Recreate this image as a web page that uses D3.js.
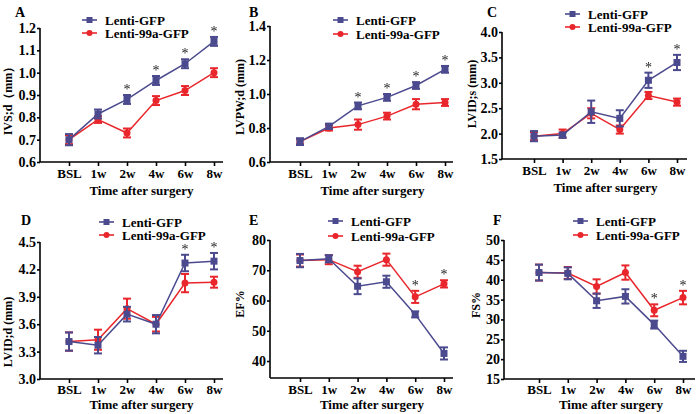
<!DOCTYPE html>
<html><head><meta charset="utf-8">
<script src="https://cdn.jsdelivr.net/npm/d3@7"></script>
<style>
html,body{margin:0;padding:0;background:#fff;}
</style></head>
<body><svg id="chart" width="700" height="414"></svg>
<script>
// ---------- data ----------
const categories = ["BSL", "1w", "2w", "4w", "6w", "8w"];
const seriesNames = ["Lenti-GFP", "Lenti-99a-GFP"];

// A: IVS;d
const ivsGfp     = [0.70, 0.815, 0.88, 0.965, 1.04, 1.14];
const ivsGfpErr  = [0.025, 0.02, 0.02, 0.02, 0.02, 0.02];
const ivs99a     = [0.70, 0.79, 0.73, 0.875, 0.92, 1.00];
const ivs99aErr  = [0.02, 0.015, 0.02, 0.02, 0.02, 0.02];
const ivsStars   = ["2w", "4w", "6w", "8w"];
const ivsTicks   = [0.6, 0.7, 0.8, 0.9, 1.0, 1.1, 1.2];

// B: LVPW;d
const lvpwGfp    = [0.72, 0.81, 0.93, 0.98, 1.05, 1.145];
const lvpwGfpErr = [0.02, 0.015, 0.02, 0.02, 0.02, 0.02];
const lvpw99a    = [0.72, 0.80, 0.82, 0.87, 0.94, 0.95];
const lvpw99aErr = [0.015, 0.015, 0.03, 0.02, 0.03, 0.02];
const lvpwStars  = ["2w", "4w", "6w", "8w"];
const lvpwTicks  = [0.6, 0.8, 1.0, 1.2, 1.4];

// C: LVID;s
const lvidsGfp    = [1.95, 1.97, 2.43, 2.30, 3.05, 3.40];
const lvidsGfpErr = [0.10, 0.05, 0.22, 0.16, 0.15, 0.15];
const lvids99a    = [1.95, 2.00, 2.40, 2.08, 2.75, 2.62];
const lvids99aErr = [0.08, 0.08, 0.10, 0.08, 0.07, 0.07];
const lvidsStars  = ["6w", "8w"];
const lvidsTicks  = [1.5, 2.0, 2.5, 3.0, 3.5, 4.0];

// D: LVID;d
const lviddGfp    = [3.41, 3.37, 3.71, 3.60, 4.27, 4.29];
const lviddGfpErr = [0.10, 0.09, 0.08, 0.10, 0.09, 0.09];
const lvidd99a    = [3.41, 3.43, 3.77, 3.60, 4.05, 4.06];
const lvidd99aErr = [0.10, 0.11, 0.11, 0.08, 0.10, 0.06];
const lviddStars  = ["6w", "8w"];
const lviddTicks  = [3.0, 3.3, 3.6, 3.9, 4.2, 4.5];

// E: EF%
const efGfp     = [73.2, 73.8, 64.7, 66.2, 55.4, 42.5];
const efGfpErr  = [2.2, 1.2, 2.6, 2.0, 1.0, 2.0];
const ef99a     = [73.2, 73.5, 69.5, 73.5, 61.2, 65.5];
const ef99aErr  = [2.0, 1.5, 2.0, 2.0, 2.0, 1.2];
const efStars   = ["6w", "8w"];
const efTicks   = [40, 50, 60, 70, 80];

// F: FS%
const fsGfp     = [41.8, 41.6, 34.7, 35.8, 28.7, 20.7];
const fsGfpErr  = [2.0, 1.5, 1.8, 1.8, 1.0, 1.4];
const fs99a     = [41.8, 41.7, 38.3, 41.8, 32.3, 35.5];
const fs99aErr  = [2.0, 1.5, 1.8, 1.8, 1.5, 1.7];
const fsStars   = ["6w", "8w"];
const fsTicks   = [15, 20, 25, 30, 35, 40, 45, 50];

// ---------- layout / style ----------
const colGfp = "#4b4a8e";
const col99a = "#e8262b";
const FONT = "'Liberation Serif', 'Times New Roman', 'DejaVu Serif', serif";

const panels = [
  {letter:"A", title:"IVS;d\uFF08mm\uFF09", gfp:ivsGfp, gfpErr:ivsGfpErr, r:ivs99a, rErr:ivs99aErr, stars:ivsStars, starOn:"gfp", ticks:ivsTicks, dom:[0.6,1.2], fmt:d3.format(".1f"),
   ax:40, cx:[69,214], xEnd:223, yr:[162,28], yBottom:162, let:[15,17], leg:[82,20,13], yt:[8,98], lab:178, xt:195},
  {letter:"B", title:"LVPW;d (mm)", gfp:lvpwGfp, gfpErr:lvpwGfpErr, r:lvpw99a, rErr:lvpw99aErr, stars:lvpwStars, starOn:"gfp", ticks:lvpwTicks, dom:[0.6,1.4], fmt:d3.format(".1f"),
   ax:270, cx:[300,445], xEnd:453, yr:[162,26], yBottom:162, let:[249,17], leg:[333,20,14], yt:[240,97], lab:178, xt:195},
  {letter:"C", title:"LVID;s (mm)", gfp:lvidsGfp, gfpErr:lvidsGfpErr, r:lvids99a, rErr:lvids99aErr, stars:lvidsStars, starOn:"gfp", ticks:lvidsTicks, dom:[1.5,4.0], fmt:d3.format(".1f"),
   ax:502, cx:[534,677], xEnd:687, yr:[159,32], yBottom:159, let:[487,17], leg:[565,14,13], yt:[472,94], lab:175, xt:192},
  {letter:"D", title:"LVID;d (mm)", gfp:lviddGfp, gfpErr:lviddGfpErr, r:lvidd99a, rErr:lvidd99aErr, stars:lviddStars, starOn:"gfp", ticks:lviddTicks, dom:[3.0,4.5], fmt:d3.format(".1f"),
   ax:40, cx:[69,214], xEnd:223, yr:[379,242], yBottom:379, let:[21,225], leg:[99,222,13], yt:[8,332], lab:394, xt:409},
  {letter:"E", title:"EF%", gfp:efGfp, gfpErr:efGfpErr, r:ef99a, rErr:ef99aErr, stars:efStars, starOn:"r", ticks:efTicks, dom:[40,80], fmt:d3.format("d"),
   ax:270, cx:[300,444], xEnd:453, yr:[361,240], yBottom:378, let:[249,225], leg:[328,221,15], yt:[240,304], lab:394, xt:409},
  {letter:"F", title:"FS%", gfp:fsGfp, gfpErr:fsGfpErr, r:fs99a, rErr:fs99aErr, stars:fsStars, starOn:"r", ticks:fsTicks, dom:[15,50], fmt:d3.format("d"),
   ax:504, cx:[539,683], xEnd:695, yr:[379,240], yBottom:379, let:[493,225], leg:[573,221,14], yt:[476,305], lab:394, xt:409}
];

const svg = d3.select("#chart");
svg.append("defs").append("filter").attr("id", "gray")
  .append("feColorMatrix").attr("type", "saturate").attr("values", 0);

function txt(sel, size, bold) {
  return sel.attr("font-family", FONT).style("font-family", FONT).style("font-size", size + "px")
    .style("font-weight", bold ? "bold" : "normal").attr("fill", "#000");
}

panels.forEach(p => {
  const g = svg.append("g");
  const x = d3.scalePoint().domain(categories).range(p.cx);
  const y = d3.scaleLinear().domain(p.dom).range(p.yr);

  // y axis
  const yAxis = d3.axisLeft(y).tickValues(p.ticks).tickFormat(p.fmt).tickSize(3).tickSizeOuter(0).tickPadding(1);
  const ya = g.append("g").attr("transform", `translate(${p.ax},0)`).call(yAxis).attr("font-family", FONT);
  ya.select(".domain").attr("d", `M0,${y(p.dom[1])}V${p.yBottom}`);
  // x axis
  const xAxis = d3.axisBottom(x).tickSize(4).tickSizeOuter(0).tickPadding(6);
  const xa = g.append("g").attr("transform", `translate(0,${p.yBottom})`).call(xAxis).attr("font-family", FONT);
  xa.select(".domain").attr("d", `M${p.ax},0H${p.xEnd}`);
  [ya, xa].forEach(a => {
    a.selectAll("path,line").attr("stroke", "#000").attr("stroke-width", 1.6);
  });
  txt(ya.selectAll("text"), 14, true);
  txt(xa.selectAll("text"), 13, true);
  xa.selectAll("text").attr("dy", null).attr("y", p.lab - p.yBottom);

  // titles
  txt(g.append("text").attr("x", (p.cx[0] + p.cx[1]) / 2).attr("y", p.xt).attr("text-anchor", "middle"), 13, true)
    .text("Time after surgery");
  txt(g.append("text").attr("transform", `translate(${p.yt[0]},${p.yt[1]}) rotate(-90)`).attr("dy", "0.35em")
    .attr("text-anchor", "middle"), 12, true).text(p.title);
  txt(g.append("text").attr("x", p.let[0]).attr("y", p.let[1]), 14, true).text(p.letter);

  // series
  const series = [
    {vals:p.r, err:p.rErr, col:col99a, shape:"circle"},
    {vals:p.gfp, err:p.gfpErr, col:colGfp, shape:"square"}
  ];
  series.forEach(s => {
    const line = d3.line().x((d, i) => x(categories[i])).y(d => y(d));
    g.append("path").attr("d", line(s.vals)).attr("fill", "none").attr("stroke", s.col).attr("stroke-width", 1.5);
    s.vals.forEach((v, i) => {
      const cx = x(categories[i]);
      const y1 = y(v + s.err[i]), y2 = y(v - s.err[i]);
      g.append("line").attr("x1", cx).attr("x2", cx).attr("y1", y1).attr("y2", y2).attr("stroke", s.col).attr("stroke-width", 2);
      [y1, y2].forEach(yy => g.append("line").attr("x1", cx - 4).attr("x2", cx + 4).attr("y1", yy).attr("y2", yy)
        .attr("stroke", s.col).attr("stroke-width", 2));
      if (s.shape === "square") {
        g.append("rect").attr("x", cx - 3.5).attr("y", y(v) - 3.5).attr("width", 7).attr("height", 7).attr("fill", s.col);
      } else {
        g.append("circle").attr("cx", cx).attr("cy", y(v)).attr("r", 3.5).attr("fill", s.col);
      }
    });
  });

  // significance stars
  const sv = p.starOn === "gfp" ? p.gfp : p.r;
  const se = p.starOn === "gfp" ? p.gfpErr : p.rErr;
  p.stars.forEach(c => {
    const i = categories.indexOf(c);
    txt(g.append("text").attr("x", x(c)).attr("y", y(sv[i] + se[i]) - 1).attr("text-anchor", "middle"), 14, false)
      .attr("fill", "#222").attr("filter", "url(#gray)").text("*");
  });

  // legend
  const [lx, ly, gap] = p.leg;
  [{n:seriesNames[0], col:colGfp, shape:"square"}, {n:seriesNames[1], col:col99a, shape:"circle"}].forEach((l, k) => {
    const yy = ly + k * gap;
    g.append("line").attr("x1", lx).attr("x2", lx + 15).attr("y1", yy).attr("y2", yy).attr("stroke", l.col).attr("stroke-width", 1.6);
    if (l.shape === "square") g.append("rect").attr("x", lx + 4.5).attr("y", yy - 3).attr("width", 6).attr("height", 6).attr("fill", l.col);
    else g.append("circle").attr("cx", lx + 7.5).attr("cy", yy).attr("r", 3).attr("fill", l.col);
    txt(g.append("text").attr("x", lx + 23).attr("y", yy).attr("dy", "0.35em"), 13, true).text(l.n);
  });
});
</script>
</body></html>
